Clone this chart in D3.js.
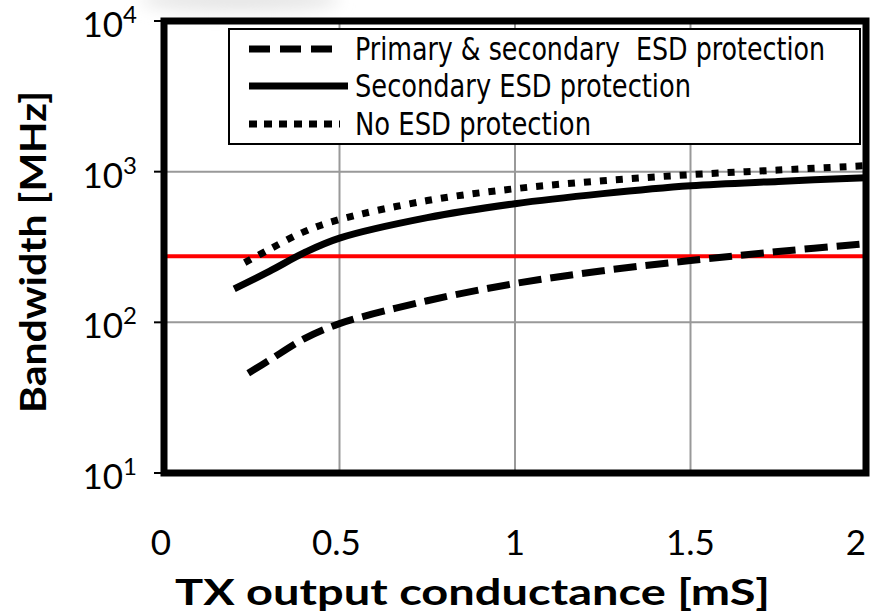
<!DOCTYPE html>
<html>
<head>
<meta charset="utf-8">
<script src="https://cdn.jsdelivr.net/npm/d3@7"></script>
<style>
  body { margin: 0; background: #fff; }
  svg { display: block; }
</style>
</head>
<body>
<svg id="chart" width="876" height="613"></svg>
<script>
// 數據
const xTicks = [0, 0.5, 1, 1.5, 2];
const xTickLabels = ['0', '0.5', '1', '1.5', '2'];
const yTickExps = [1, 2, 3, 4];

const primaryX = [0.24, 0.3, 0.4, 0.5, 0.75, 1, 1.25, 1.5, 1.75, 2];
const primaryY = [46, 56, 78, 98, 139, 181, 220, 257, 295, 333];

const secondaryX = [0.2, 0.3, 0.4, 0.5, 0.75, 1, 1.25, 1.5, 1.75, 2];
const secondaryY = [167, 218, 290, 362, 495, 613, 715, 807, 862, 912];

const noEsdX = [0.23, 0.3, 0.4, 0.5, 0.75, 1, 1.25, 1.5, 1.75, 2];
const noEsdY = [249, 305, 400, 481, 643, 771, 870, 955, 1025, 1096];

const redLimit = 275;

const seriesNames = ['Primary & secondary  ESD protection', 'Secondary ESD protection', 'No ESD protection'];

// 版面
const svg = d3.select('#chart');
const margin = { left: 164, top: 21 };
const plotRight = 866;
const plotBottom = 473;

const x = d3.scaleLinear().domain([0, 2]).range([margin.left, plotRight]);
const y = d3.scaleLog().domain([10, 10000]).range([plotBottom, margin.top]);

const tickFont = 'Lato, "Open Sans", sans-serif';
const narrowFont = '"Liberation Sans Narrow", "DejaVu Sans Condensed", "Liberation Sans", sans-serif';

// 頂部淡灰色陰影
const defs = svg.append('defs');
defs.append('filter').attr('id', 'blur')
    .attr('x', '-50%').attr('y', '-200%').attr('width', '200%').attr('height', '500%')
    .append('feGaussianBlur').attr('stdDeviation', 8);
svg.append('ellipse')
    .attr('cx', 240).attr('cy', 0)
    .attr('rx', 100).attr('ry', 12)
    .attr('fill', '#e6e6e6')
    .attr('filter', 'url(#blur)');

// 網格
const grid = svg.append('g');
grid.selectAll('.vgrid')
    .data(xTicks.slice(1, -1))
    .enter().append('line')
    .attr('x1', d => x(d)).attr('x2', d => x(d))
    .attr('y1', margin.top).attr('y2', plotBottom)
    .attr('stroke', '#999').attr('stroke-width', 2);
grid.selectAll('.hgrid')
    .data(yTickExps.slice(1, -1))
    .enter().append('line')
    .attr('x1', margin.left).attr('x2', plotRight)
    .attr('y1', d => y(Math.pow(10, d))).attr('y2', d => y(Math.pow(10, d)))
    .attr('stroke', '#999').attr('stroke-width', 2);

// 紅色限值線
svg.append('line')
    .attr('x1', margin.left).attr('x2', plotRight)
    .attr('y1', y(redLimit)).attr('y2', y(redLimit))
    .attr('stroke', '#ff0000').attr('stroke-width', 4);

// 曲線
const line = d3.line()
    .x(d => x(d[0]))
    .y(d => y(d[1]))
    .curve(d3.curveCatmullRom.alpha(0.5));

const series = [
    { xs: primaryX, ys: primaryY, dash: '23,9' },
    { xs: secondaryX, ys: secondaryY, dash: null },
    { xs: noEsdX, ys: noEsdY, dash: '7,9' }
];

series.forEach(s => {
    const pts = s.xs.map((v, i) => [v, s.ys[i]]);
    svg.append('path')
        .datum(pts)
        .attr('d', line)
        .attr('fill', 'none')
        .attr('stroke', '#000')
        .attr('stroke-width', 7)
        .attr('stroke-dasharray', s.dash);
});

// 外框
svg.append('rect')
    .attr('x', margin.left).attr('y', margin.top)
    .attr('width', plotRight - margin.left)
    .attr('height', plotBottom - margin.top)
    .attr('fill', 'none')
    .attr('stroke', '#000')
    .attr('stroke-width', 7);

// Y 軸刻度
const yAxis = svg.append('g');
yTickExps.forEach(e => {
    const yy = y(Math.pow(10, e));
    yAxis.append('line')
        .attr('x1', 154).attr('x2', margin.left)
        .attr('y1', yy).attr('y2', yy)
        .attr('stroke', '#000').attr('stroke-width', 2);
    const t = yAxis.append('text')
        .attr('x', 137)
        .attr('y', yy + 16)
        .attr('text-anchor', 'end')
        .attr('font-family', tickFont)
        .attr('font-size', 35)
        .attr('fill', '#000');
    t.append('tspan').text('10');
    t.append('tspan')
        .attr('font-size', 24)
        .attr('dy', -14)
        .text(e);
});

// X 軸刻度
const xOffsets = [-3, -3, 0, 0, -10];
svg.selectAll('.xlabel')
    .data(xTicks)
    .enter().append('text')
    .attr('x', (d, i) => x(d) + xOffsets[i])
    .attr('y', 555)
    .attr('text-anchor', 'middle')
    .attr('font-family', tickFont)
    .attr('font-size', 35)
    .attr('fill', '#000')
    .text((d, i) => xTickLabels[i]);

// 軸標題
svg.append('text')
    .attr('x', 175)
    .attr('y', 605)
    .attr('font-family', tickFont)
    .attr('font-weight', 'bold')
    .attr('font-size', 36)
    .attr('textLength', 595)
    .attr('lengthAdjust', 'spacingAndGlyphs')
    .attr('fill', '#000')
    .text('TX output conductance [mS]');

svg.append('text')
    .attr('transform', 'translate(46, 413) rotate(-90)')
    .attr('font-family', tickFont)
    .attr('font-weight', 'bold')
    .attr('font-size', 36)
    .attr('textLength', 322)
    .attr('lengthAdjust', 'spacingAndGlyphs')
    .attr('fill', '#000')
    .text('Bandwidth [MHz]');

// 圖例
const legend = svg.append('g');
legend.append('rect')
    .attr('x', 229).attr('y', 29)
    .attr('width', 631).attr('height', 115)
    .attr('fill', '#fff')
    .attr('stroke', '#000')
    .attr('stroke-width', 2);

const legendRows = [49, 86, 124];
const legendTextWidths = [470, 336, 236];
const legendLineEnds = [337, 348, 340];
const legendDash = ['21,10', null, '8,7'];
series.forEach((s, i) => {
    legend.append('line')
        .attr('x1', 249).attr('x2', legendLineEnds[i])
        .attr('y1', legendRows[i]).attr('y2', legendRows[i])
        .attr('stroke', '#000')
        .attr('stroke-width', 7)
        .attr('stroke-dasharray', legendDash[i]);
    legend.append('text')
        .attr('transform', `translate(355, ${legendRows[i] + 11}) scale(1, 1.15)`)
        .attr('font-family', narrowFont)
        .attr('font-size', 28)
        .attr('textLength', legendTextWidths[i])
        .attr('lengthAdjust', 'spacingAndGlyphs')
        .attr('fill', '#000')
        .style('white-space', 'pre')
        .text(seriesNames[i]);
});
</script>
</body>
</html>
